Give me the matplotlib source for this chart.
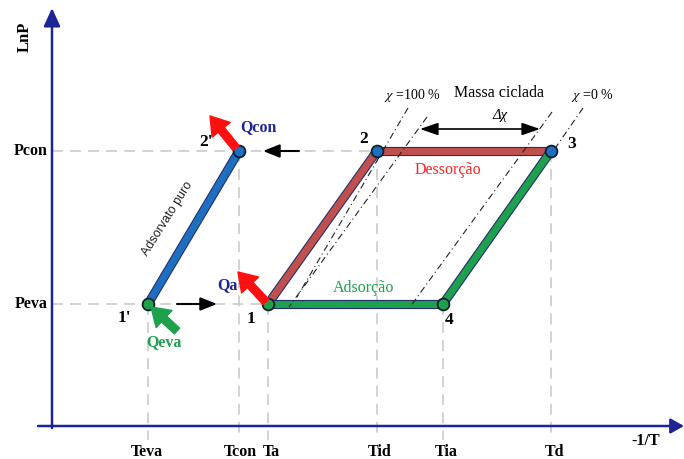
import matplotlib
matplotlib.use('Agg')
import matplotlib.pyplot as plt
import matplotlib.patheffects as pe

plt.rcParams['font.family'] = ['Liberation Serif', 'DejaVu Serif']
plt.rcParams['mathtext.fontset'] = 'stix'

# ---------------- data (positions along -1/T and LnP) ----------------
tick_labels = ['Teva', 'Tcon', 'Ta', 'Tid', 'Tia', 'Td']
tick_x = [148, 239, 268, 377, 443, 551]
tick_top = [304, 151, 304, 151, 304, 151]
tick_label_x = [147, 240, 271, 380, 446, 555]

p_labels = ['Pcon', 'Peva']
p_y = [151, 304]
p_end_x = [377, 268]

# pure adsorbate line 1' -> 2'
pure_x = [148, 239]
pure_y = [304, 151]
# isosteric heating 1 -> 2
heat_x = [268, 377]
heat_y = [304, 151]
# desorption 2 -> 3
des_x = [377, 551]
des_y = [151, 151]
# isosteric cooling 3 -> 4
cool_x = [551, 443]
cool_y = [151, 304]
# adsorption 4 -> 1
ads_x = [443, 268]
ads_y = [304, 304]

point_names = ["1'", "2'", "1", "2", "3", "4"]
point_x = [148, 239, 268, 377, 551, 443]
point_y = [304, 151, 304, 151, 151, 304]
point_colors = ['#1ea04c', '#1f6fc0', '#1ea04c', '#1f6fc0', '#1f6fc0', '#1ea04c']
point_label_x = [124, 206, 251, 364, 572, 449]
point_label_y = [318, 142, 319, 139, 144, 320]

# concentration isosteres (chi lines)
chi_x = [[408, 297], [427, 289], [552, 410], [583, 556]]
chi_y = [[108, 297], [117, 307], [112, 307], [108, 147]]

# ---------------- figure ----------------
navy = '#1c2496'
outline = '#22306e'
fig = plt.figure(figsize=(6.84, 4.59), dpi=100)
ax = fig.add_axes([0, 0, 1, 1])
ax.set_xlim(0, 684)
ax.set_ylim(459, 0)
ax.axis('off')

grey = dict(color='#cfcfcf', lw=1.3, dashes=(6, 4), zorder=1)
for x, top in zip(tick_x, tick_top):
    ax.plot([x, x], [top, 440], **grey)
for y, xe in zip(p_y, p_end_x):
    ax.plot([52, xe], [y, y], **grey)

# axes arrows
ax.annotate('', xy=(52, 8), xytext=(52, 428),
            arrowprops=dict(arrowstyle='-|>,head_length=1.1,head_width=0.5',
                            color=navy, lw=1.8, shrinkA=0, shrinkB=0,
                            mutation_scale=10), zorder=2)
ax.annotate('', xy=(684, 426), xytext=(38, 426),
            arrowprops=dict(arrowstyle='-|>,head_length=0.8,head_width=0.45',
                            color=navy, lw=1.8, shrinkA=0, shrinkB=0,
                            mutation_scale=10), zorder=2)

# chi lines
for xs, ys in zip(chi_x, chi_y):
    ax.plot(xs, ys, color='#222222', lw=0.8, dashes=(6, 3, 1, 3), zorder=5)

# thick process bars
def bar(xs, ys, color):
    ax.plot(xs, ys, color=color, lw=5.0, solid_capstyle='butt', zorder=4,
            path_effects=[pe.Stroke(linewidth=6.6, foreground=outline), pe.Normal()])

bar(pure_x, pure_y, '#1f6fc0')
bar(heat_x, heat_y, '#c0504d')
bar(des_x, des_y, '#c0504d')
bar(cool_x, cool_y, '#1ea04c')
bar(ads_x, ads_y, '#1ea04c')

for x, y, c in zip(point_x, point_y, point_colors):
    ax.plot([x], [y], 'o', ms=8.5, mfc=c, mec='#10202c', mew=1.3, zorder=6)

for name, x, y in zip(point_names, point_label_x, point_label_y):
    ax.text(x, y, name, ha='center', va='center', fontsize=12.5,
            fontweight='bold', color='black', zorder=8)

# heat arrows
def fat_arrow(tail, tip, color):
    ax.annotate('', xy=tip, xytext=tail,
                arrowprops=dict(arrowstyle='simple,head_length=1.6,head_width=2.1,tail_width=0.7',
                                color=color, shrinkA=0, shrinkB=0, mutation_scale=8),
                zorder=7)

fat_arrow((236, 148), (210, 116), '#ff1010')
fat_arrow((266, 302), (238, 272), '#ff1010')
fat_arrow((177, 331), (151, 307), '#1ea04c')

def thin_arrow(tail, tip, style='-|>,head_length=1.0,head_width=0.4', lw=1.5):
    ax.annotate('', xy=tip, xytext=tail,
                arrowprops=dict(arrowstyle=style, color='black', lw=lw,
                                shrinkA=0, shrinkB=0, mutation_scale=10), zorder=7)

thin_arrow((177, 304), (217, 304))
thin_arrow((299, 151), (263, 151))
thin_arrow((420, 129), (540, 129), style='<|-|>,head_length=1.1,head_width=0.38', lw=1.2)

# texts
bold = dict(fontweight='bold', ha='center', va='center')
ax.text(25, 37, 'LnP', rotation=90, fontsize=12, **bold)
for lab, y in zip(p_labels, p_y):
    ax.text(48, y, lab, fontsize=11.5, fontweight='bold', ha='right', va='center')
for lab, x in zip(tick_labels, tick_label_x):
    ax.text(x, 452, lab, fontsize=11.5, **bold)
ax.text(646, 441, '-1/T', fontsize=11.5, **bold)

ax.text(258, 127, 'Qcon', fontsize=11.5, color=navy, zorder=8, **bold)
ax.text(227, 285, 'Qa', fontsize=11.5, color=navy, zorder=8, **bold)
ax.text(164, 342, 'Qeva', fontsize=11.5, color='#1ea04c', zorder=8, **bold)

ax.text(448, 170, 'Dessorção', fontsize=11.5, color='#ff2020', ha='center', va='center')
ax.text(364, 288, 'Adsorção', fontsize=11.5, color='#1ea04c', ha='center', va='center')
ax.text(167, 219, 'Adsorvato puro', fontsize=9, color='#222222', rotation=58,
        family='Liberation Sans', ha='center', va='center', rotation_mode='anchor')

ax.text(499, 93, 'Massa ciclada', fontsize=11.5, ha='center', va='center')
ax.text(412, 96, r'$\chi$ =100 %', fontsize=10, ha='center', va='center')
ax.text(592, 96, r'$\chi$ =0 %', fontsize=10, ha='center', va='center')
ax.text(500, 116, 'Δχ', fontsize=10.5, style='italic', ha='center', va='center')

fig.savefig('out.png', dpi=100)
